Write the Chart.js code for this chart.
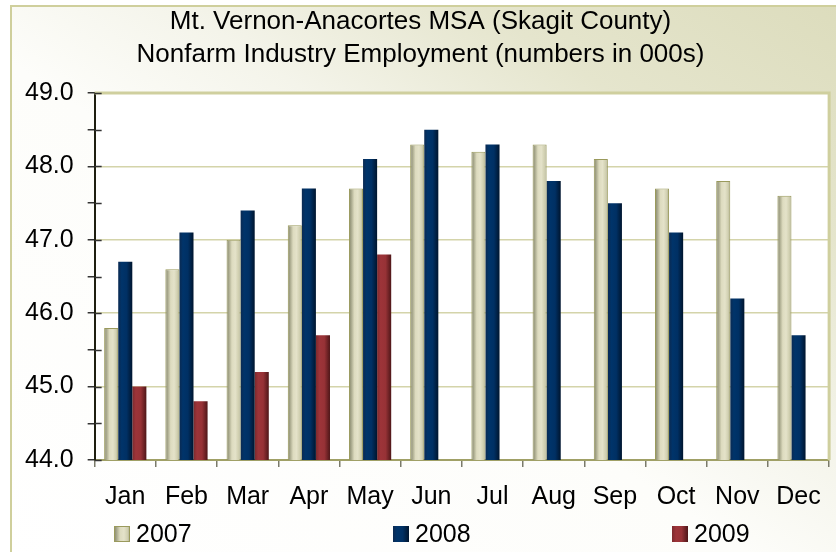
<!DOCTYPE html>
<html><head><meta charset="utf-8">
<script src="https://cdn.jsdelivr.net/npm/chart.js@4/dist/chart.umd.min.js"></script>
<style>
html,body{margin:0;padding:0;background:#fff;}
#wrap{position:relative;width:836px;height:552px;overflow:hidden;background:#fff;}
#frame{position:absolute;left:10px;top:5px;width:840px;height:560px;border-left:2px solid #cfcf9c;border-top:2px solid #cfcf9c;
  background:linear-gradient(to bottom left,#dcdcbc 0%,#e5e5cd 22%,#f4f4ea 40%,#fdfdfa 55%,#ffffff 100%);}
canvas{position:absolute;left:0;top:0;}
</style></head>
<body><div id="wrap"><div id="frame"></div><canvas id="c" width="836" height="552"></canvas></div>
<script>
const titleLines = ['Mt. Vernon-Anacortes MSA (Skagit County)', 'Nonfarm Industry Employment (numbers in 000s)'];
const categories = ['Jan','Feb','Mar','Apr','May','Jun','Jul','Aug','Sep','Oct','Nov','Dec'];
const seriesNames = ['2007','2008','2009'];
const values2007 = [45.8,46.6,47.0,47.2,47.7,48.3,48.2,48.3,48.1,47.7,47.8,47.6];
const values2008 = [46.7,47.1,47.4,47.7,48.1,48.5,48.3,47.8,47.5,47.1,46.2,45.7];
const values2009 = [45.0,44.8,45.2,45.7,46.8,null,null,null,null,null,null,null];
const yMin = 44, yMax = 49, yStep = 0.5;

const FONT = "'Liberation Sans', Arial, sans-serif";
const shades = [
  [[0,'#85856a'],[0.15,'#a4a488'],[0.38,'#dddbbf'],[0.62,'#e4e2c9'],[0.85,'#d0cfb0'],[1,'#a8a78a']],
  [[0,'#0b2a52'],[0.25,'#00346a'],[0.6,'#003064'],[1,'#00152e']],
  [[0,'#7c2a2d'],[0.25,'#9d3439'],[0.6,'#973236'],[1,'#4e1618']]
];
const borders = ['#9a9a5c', null, null];

function makeGrad(ctx, x0, x1, stops){
  const g = ctx.createLinearGradient(x0,0,x1,0);
  stops.forEach(s=>g.addColorStop(s[0], s[1]));
  return g;
}

const gradientBars = {
  id:'gradientBars',
  beforeDatasetsDraw(chart){
    const ctx = chart.ctx;
    chart.data.datasets.forEach((ds,di)=>{
      const meta = chart.getDatasetMeta(di);
      meta.data.forEach(bar=>{
        const p = bar.getProps(['x','y','width'], true);
        if(!isFinite(p.x) || !isFinite(p.y) || !p.width) return;
        const g = makeGrad(ctx, p.x - p.width/2, p.x + p.width/2, shades[di]);
        bar.options = Object.assign({}, bar.options, {backgroundColor: g});
      });
    });
  }
};

const plotFrame = {
  id:'plotFrame',
  beforeDraw(chart){
    const {ctx, chartArea:a} = chart;
    ctx.save(); ctx.fillStyle='#ffffff';
    ctx.fillRect(a.left, a.top, a.right-a.left, a.bottom-a.top);
    ctx.restore();
  },
  afterDraw(chart){
    const {ctx, chartArea:a} = chart;
    ctx.save();
    ctx.strokeStyle='#cfcf9e'; ctx.lineWidth=3;
    ctx.beginPath(); ctx.moveTo(a.left, a.top); ctx.lineTo(a.right, a.top); ctx.lineTo(a.right, a.bottom); ctx.stroke();
    const ys = chart.scales.y;
    ctx.strokeStyle='#333'; ctx.lineWidth=1.5;
    ys.ticks.forEach(t=>{
      const py = Math.round(ys.getPixelForValue(t.value))+0.5;
      ctx.beginPath(); ctx.moveTo(a.left, py); ctx.lineTo(a.left+7, py); ctx.stroke();
    });
    const step = (a.right-a.left)*0.38;
    const x0 = a.left + 19, cy = 534;
    ctx.font = '25px ' + FONT; ctx.textBaseline='middle'; ctx.textAlign='left'; ctx.fillStyle='#000';
    chart.data.datasets.forEach((ds,i)=>{
      const bx = Math.round(x0 + i*step);
      ctx.fillStyle = makeGrad(ctx, bx, bx+16, shades[i]);
      ctx.fillRect(bx, cy-8, 16, 16);
      if(borders[i]){ ctx.strokeStyle=borders[i]; ctx.lineWidth=1; ctx.strokeRect(bx+0.5, cy-7.5, 15, 15); }
      ctx.fillStyle='#000';
      ctx.fillText(ds.label, bx+22, cy+1);
    });
    ctx.restore();
  }
};

new Chart(document.getElementById('c'), {
  type:'bar',
  data:{
    labels: categories,
    datasets:[
      {label:seriesNames[0], data:values2007, borderColor:borders[0], borderWidth:{left:1,top:1,right:1,bottom:0}, borderSkipped:false},
      {label:seriesNames[1], data:values2008, borderWidth:0},
      {label:seriesNames[2], data:values2009, borderWidth:0}
    ]
  },
  options:{
    responsive:false, animation:false, events:[],
    categoryPercentage:0.69, barPercentage:1.0,
    layout:{padding:{left:11,right:6,top:0,bottom:25}},
    plugins:{
      legend:{display:false}, tooltip:{enabled:false},
      title:{display:true, text:titleLines, color:'#000', font:{family:FONT,size:26,weight:'normal',lineHeight:1.27}, padding:{top:5,bottom:22}}
    },
    scales:{
      x:{
        offset:true,
        grid:{offset:true, drawOnChartArea:false, tickLength:7, color:'#7a7a6a', lineWidth:1.5},
        border:{color:'#a0a066', width:2},
        ticks:{color:'#000', font:{family:FONT,size:25}, padding:15, maxRotation:0, autoSkip:false}
      },
      y:{
        min:yMin, max:yMax,
        grid:{
          color:c=> (c.tick && Math.abs(c.tick.value%1)<1e-9) ? '#d4d4aa' : 'rgba(0,0,0,0)',
          tickColor:'#333', tickLength:7, lineWidth:1.5
        },
        border:{color:'#1e1e10', width:2},
        ticks:{stepSize:yStep, autoSkip:false, color:'#000', font:{family:FONT,size:25}, padding:14,
          callback:v=> Math.abs(v%1)<1e-9 ? Number(v).toFixed(1) : ''}
      }
    }
  },
  plugins:[gradientBars, plotFrame]
});
</script>
</body></html>
